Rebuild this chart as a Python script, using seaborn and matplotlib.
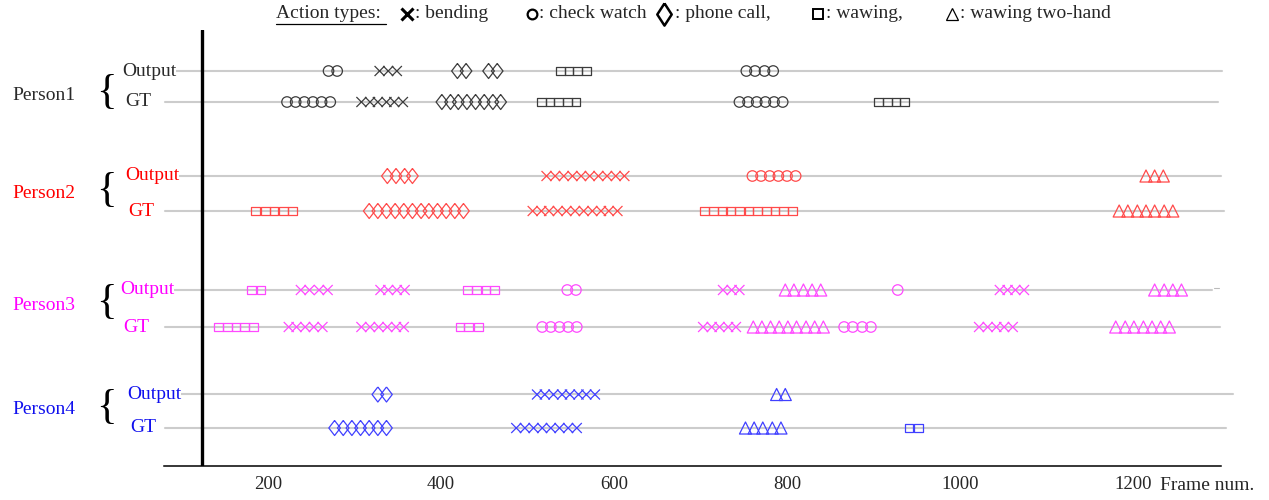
import numpy as np
import pandas as pd
import matplotlib
matplotlib.use('Agg')
import matplotlib.pyplot as plt
from matplotlib.markers import MarkerStyle
import seaborn as sns

# frame numbers of every detected action, one dict per row
p1_out = {'check watch': [270, 280, 753, 763, 774, 784],
          'bending': [329, 339, 349],
          'phone call': [419, 429, 455, 465],
          'wawing': [538, 548, 558, 568]}
p1_gt = {'check watch': [222, 232, 242, 252, 262, 272, 745, 755, 765, 775, 785, 795],
         'bending': [308, 318, 327, 337, 346, 356],
         'phone call': [401, 411, 420, 430, 440, 450, 460, 469],
         'wawing': [516, 526, 536, 546, 556, 906, 916, 926, 936]}
p2_out = {'phone call': [338, 348, 358, 367],
          'bending': [522, 532, 542, 552, 562, 572, 582, 592, 602, 612],
          'check watch': [760, 770, 780, 790, 800, 810],
          'wawing two-hand': [1215, 1225, 1235]}
p2_gt = {'wawing': [186, 197, 207, 218, 228, 705, 715, 725, 735, 745, 756, 766, 776, 786, 796, 806],
         'phone call': [317, 327, 337, 347, 357, 367, 377, 386, 396, 406, 416, 426],
         'bending': [506, 516, 525, 535, 545, 555, 565, 575, 585, 594, 604],
         'wawing two-hand': [1184, 1194, 1205, 1215, 1225, 1236, 1246]}
p3_out = {'wawing': [181, 192, 431, 441, 452, 462],
          'bending': [238, 248, 259, 269, 330, 339, 349, 358, 726, 736, 745, 1046, 1055, 1064, 1074],
          'check watch': [546, 556, 928],
          'wawing two-hand': [798, 808, 819, 829, 839, 1225, 1236, 1246, 1256]}
p3_gt = {'wawing': [143, 153, 163, 173, 183, 422, 432, 443],
         'bending': [224, 233, 243, 253, 263, 308, 318, 328, 338, 348, 357, 703, 713, 722, 732, 741,
                     1022, 1032, 1042, 1051, 1061],
         'check watch': [517, 527, 537, 547, 557, 866, 876, 887, 897],
         'wawing two-hand': [761, 771, 781, 791, 801, 811, 822, 832, 842, 1180, 1191, 1201, 1212, 1222, 1232, 1242]}
p4_out = {'phone call': [327, 337],
          'bending': [511, 520, 530, 540, 549, 559, 568, 578],
          'wawing two-hand': [788, 798]}
p4_gt = {'phone call': [277, 287, 297, 307, 317, 327, 337],
         'bending': [487, 497, 507, 517, 527, 537, 547, 557],
         'wawing two-hand': [752, 762, 772, 783, 793],
         'wawing': [941, 952]}

persons = ['Person1', 'Person2', 'Person3', 'Person4']
xticks = [200, 400, 600, 800, 1000, 1200]

# ---- styling / layout (pixel layout of the 1269x500 canvas) ----
sns.set_style('white')
plt.rcParams['font.family'] = ['Liberation Serif', 'DejaVu Serif']

text_col = {'Person1': '#2a2a2a', 'Person2': '#ff0000', 'Person3': '#ff00ff', 'Person4': '#1010ee'}
mark_col = {'Person1': '#3c3c3c', 'Person2': '#ff4a4a', 'Person3': '#ff4aff', 'Person4': '#4040ff'}
row_y = {('Person1', 'Output'): 71, ('Person1', 'GT'): 102,
         ('Person2', 'Output'): 176, ('Person2', 'GT'): 211,
         ('Person3', 'Output'): 290, ('Person3', 'GT'): 327,
         ('Person4', 'Output'): 394.5, ('Person4', 'GT'): 428}
line_end = {('Person1', 'Output'): 1303, ('Person1', 'GT'): 1298,
            ('Person2', 'Output'): 1302, ('Person2', 'GT'): 1305,
            ('Person3', 'Output'): 1291, ('Person3', 'GT'): 1300,
            ('Person4', 'Output'): 1315, ('Person4', 'GT'): 1307}

diamond = MarkerStyle([(0, 1), (0.77, 0), (0, -1), (-0.77, 0), (0, 1)])
markers = {'bending': 'x', 'check watch': 'o', 'phone call': diamond, 'wawing': 's', 'wawing two-hand': '^'}
msize = {'bending': 52, 'check watch': 57, 'phone call': 117, 'wawing': 40, 'wawing two-hand': 75}

rows = []
for (person, src), d in zip(row_y.keys(), [p1_out, p1_gt, p2_out, p2_gt, p3_out, p3_gt, p4_out, p4_gt]):
    for act, frames in d.items():
        for f in frames:
            rows.append((person, src, act, f))
df = pd.DataFrame(rows, columns=['person', 'source', 'action', 'frame'])
df['y'] = [row_y[(p, s)] for p, s in zip(df.person, df.source)]

fig = plt.figure(figsize=(12.69, 5.0), dpi=100)
ax = fig.add_axes([164 / 1269, 34 / 500, (1221 - 164) / 1269, 436 / 500])
ax.set_xlim(79.8, 1301.7)
ax.set_ylim(466, 30)

for key, y in row_y.items():
    ax.plot([81, line_end[key]], [y, y], color='#cccccc', lw=1.5, zorder=1, clip_on=False)
ax.plot([1294, 1299], [288, 288], color='#bbbbbb', lw=0.8, clip_on=False)

for p in persons:
    for a in markers:
        sub = df[(df.person == p) & (df.action == a)]
        if len(sub) == 0:
            continue
        sns.scatterplot(data=sub, x='frame', y='y', marker=markers[a], s=msize[a],
                        color=mark_col[p], ax=ax, legend=False, zorder=3)
        coll = ax.collections[-1]
        coll.set_facecolor('none')
        coll.set_edgecolor(mark_col[p])
        coll.set_linewidth(0.9)

ax.axvline(123.7, color='black', lw=2.4, zorder=4)
ax.set_xticks(xticks)
ax.set_xticklabels([str(t) for t in xticks])
ax.set_yticks([])
ax.set_xlabel('')
ax.set_ylabel('')
ax.tick_params(axis='x', direction='in', length=9, width=0.8, color='#333333', labelsize=13.5, pad=7)
for s in ['left', 'top', 'right']:
    ax.spines[s].set_visible(False)
ax.spines['bottom'].set_linewidth(1.1)
ax.spines['bottom'].set_color('black')

# overlay in pixel units for labels and the legend line
ov = fig.add_axes([0, 0, 1, 1])
ov.set_xlim(0, 1269)
ov.set_ylim(500, 0)
ov.axis('off')

brace_y = {'Person1': 95, 'Person2': 193, 'Person3': 305, 'Person4': 410}
label_x = {('Person1', 'Output'): 122, ('Person1', 'GT'): 125,
           ('Person2', 'Output'): 125, ('Person2', 'GT'): 128,
           ('Person3', 'Output'): 120, ('Person3', 'GT'): 123,
           ('Person4', 'Output'): 127, ('Person4', 'GT'): 130}
for p in persons:
    ov.text(12, brace_y[p], p, fontsize=14, color=text_col[p], ha='left', va='center')
    ov.text(106, brace_y[p] - 2, '{', fontsize=31, color='black', ha='center', va='center')
for key, y in row_y.items():
    ov.text(label_x[key], y, key[1], fontsize=14, color=text_col[key[0]], ha='left', va='center',
            bbox=dict(fc='white', ec='none', pad=0))

ov.text(1160, 486, 'Frame num.', fontsize=14, ha='left', va='center')

# legend line at the top
ly = 14
ov.text(276, ly, 'Action types:', fontsize=14, ha='left', va='center')
ov.plot([276, 386], [ly + 10, ly + 10], color='black', lw=0.9)
ov.plot([407], [ly], marker='x', ms=8, mew=2.2, color='black')
ov.text(415, ly, ': bending', fontsize=14, ha='left', va='center')
ov.plot([532], [ly], marker='o', ms=7, mew=1.6, mfc='none', color='black')
ov.text(539, ly, ': check watch', fontsize=14, ha='left', va='center')
ov.plot([664], [ly], marker=MarkerStyle([(0, 1), (0.65, 0), (0, -1), (-0.65, 0), (0, 1)]),
        ms=16, mew=1.8, mfc='none', color='black')
ov.text(675, ly, ': phone call,', fontsize=14, ha='left', va='center')
ov.plot([818], [ly], marker='s', ms=7.5, mew=1.4, mfc='none', color='black')
ov.text(826, ly, ': wawing,', fontsize=14, ha='left', va='center')
ov.plot([952], [ly], marker='^', ms=9, mew=0.9, mfc='none', color='black')
ov.text(960, ly, ': wawing two-hand', fontsize=14, ha='left', va='center')

fig.savefig('out.png', dpi=100)
